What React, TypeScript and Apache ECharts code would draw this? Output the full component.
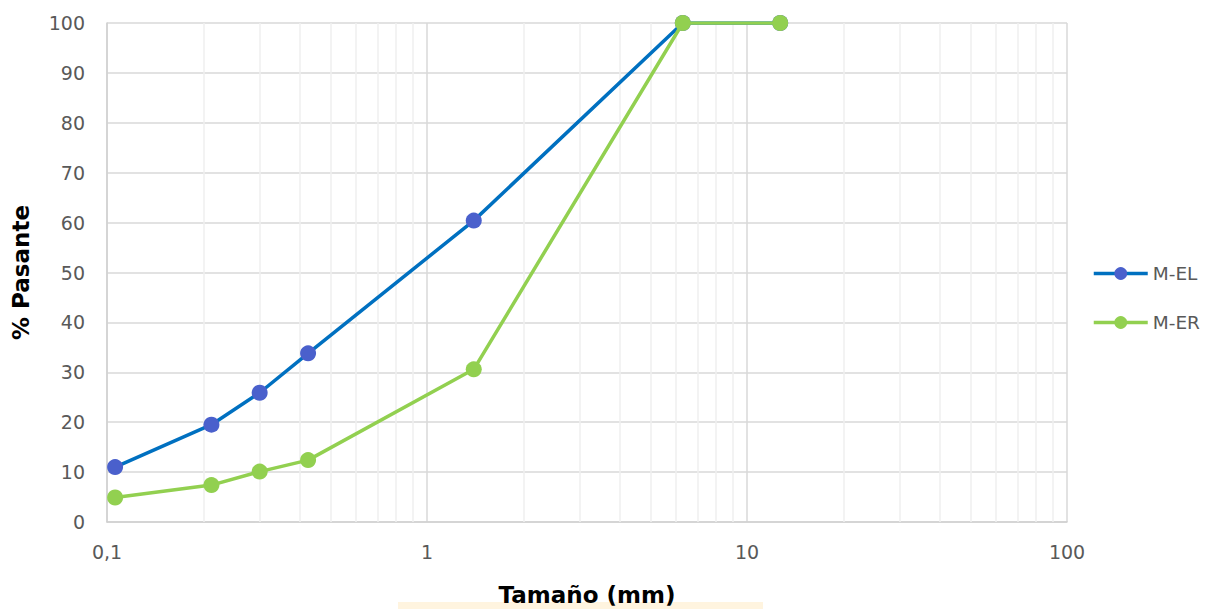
import React, { useEffect, useRef } from "react";
import * as echarts from "echarts";

const sizes = [0.106, 0.212, 0.3, 0.425, 1.4, 6.3, 12.7];
const mEL = [11, 19.5, 25.9, 33.8, 60.4, 100, 100];
const mER = [4.9, 7.4, 10.1, 12.4, 30.6, 100, 100];
const minorTicks = [0.2, 0.3, 0.4, 0.5, 0.6, 0.7, 0.8, 0.9, 2, 3, 4, 5, 6, 7, 8, 9, 20, 30, 40, 50, 60, 70, 80, 90];

const FONT = "'DejaVu Sans', sans-serif";

export default function App() {
  const ref = useRef<HTMLDivElement>(null);
  useEffect(() => {
    if (!ref.current) return;
    const chart = echarts.init(ref.current, undefined, { renderer: "svg" });
    chart.setOption({
      animation: false,
      textStyle: { fontFamily: FONT },
      grid: { left: 107, right: 140, top: 23, bottom: 87, outerBoundsMode: "none", containLabel: false },
      legend: {
        data: [
          { name: "M-EL", lineStyle: { width: 3.5, color: "#0070C0" } },
          { name: "M-ER", lineStyle: { width: 3.5, color: "#92D050" } },
        ],
        orient: "vertical",
        left: 1092,
        top: 264,
        padding: 0,
        itemWidth: 54,
        itemHeight: 16,
        itemGap: 30,
        textStyle: { color: "#595959", fontSize: 18.5, fontFamily: FONT },
      },
      xAxis: {
        type: "log",
        logBase: 10,
        min: 0.1,
        max: 100,
        name: "Tamaño (mm)",
        nameLocation: "middle",
        nameGap: 61,
        nameTextStyle: { color: "#000", fontSize: 23, fontWeight: "bold", fontFamily: FONT },
        axisLine: { show: true, lineStyle: { color: "#d0d0d0", width: 1.5 } },
        axisTick: { show: false },
        axisLabel: {
          color: "#595959",
          fontSize: 19,
          margin: 20,
          formatter: (v: number) => String(v).replace(".", ","),
        },
        splitLine: { show: true, lineStyle: { color: "#d9d9d9", width: 1.5 } },
      },
      yAxis: {
        type: "value",
        min: 0,
        max: 100,
        interval: 10,
        name: "% Pasante",
        nameLocation: "middle",
        nameGap: 75,
        nameTextStyle: { color: "#000", fontSize: 23, fontWeight: "bold", fontFamily: FONT },
        axisLine: { show: true, lineStyle: { color: "#d0d0d0", width: 1.5 } },
        axisTick: { show: false },
        axisLabel: { color: "#595959", fontSize: 19, margin: 22 },
        splitLine: { show: true, lineStyle: { color: "#d9d9d9", width: 1.5 } },
      },
      series: [
        {
          name: "minor",
          type: "line",
          data: [],
          z: 1,
          silent: true,
          markLine: {
            z: 1,
            silent: true,
            symbol: "none",
            label: { show: false },
            lineStyle: { color: "#efefef", width: 1.5, type: "solid" },
            data: minorTicks.map((t) => ({ xAxis: t })),
          },
        },
        {
          name: "M-EL",
          type: "line",
          z: 3,
          data: sizes.map((s, i) => [s, mEL[i]]),
          symbol: "circle",
          symbolSize: 16,
          lineStyle: { color: "#0070C0", width: 3.5 },
          itemStyle: { color: "#4A60CC" },
        },
        {
          name: "M-ER",
          type: "line",
          z: 4,
          data: sizes.map((s, i) => [s, mER[i]]),
          symbol: "circle",
          symbolSize: 16,
          lineStyle: { color: "#92D050", width: 3.5 },
          itemStyle: { color: "#92D050" },
        },
      ],
      graphic: [
        {
          type: "rect",
          z: -10,
          silent: true,
          shape: { x: 398, y: 602, width: 365, height: 7 },
          style: { fill: "#FFF4DF" },
        },
      ],
    });
    return () => chart.dispose();
  }, []);
  return (
    <div
      ref={ref}
      style={{ position: "absolute", left: 0, top: 0, width: 1207, height: 609 }}
    />
  );
}
